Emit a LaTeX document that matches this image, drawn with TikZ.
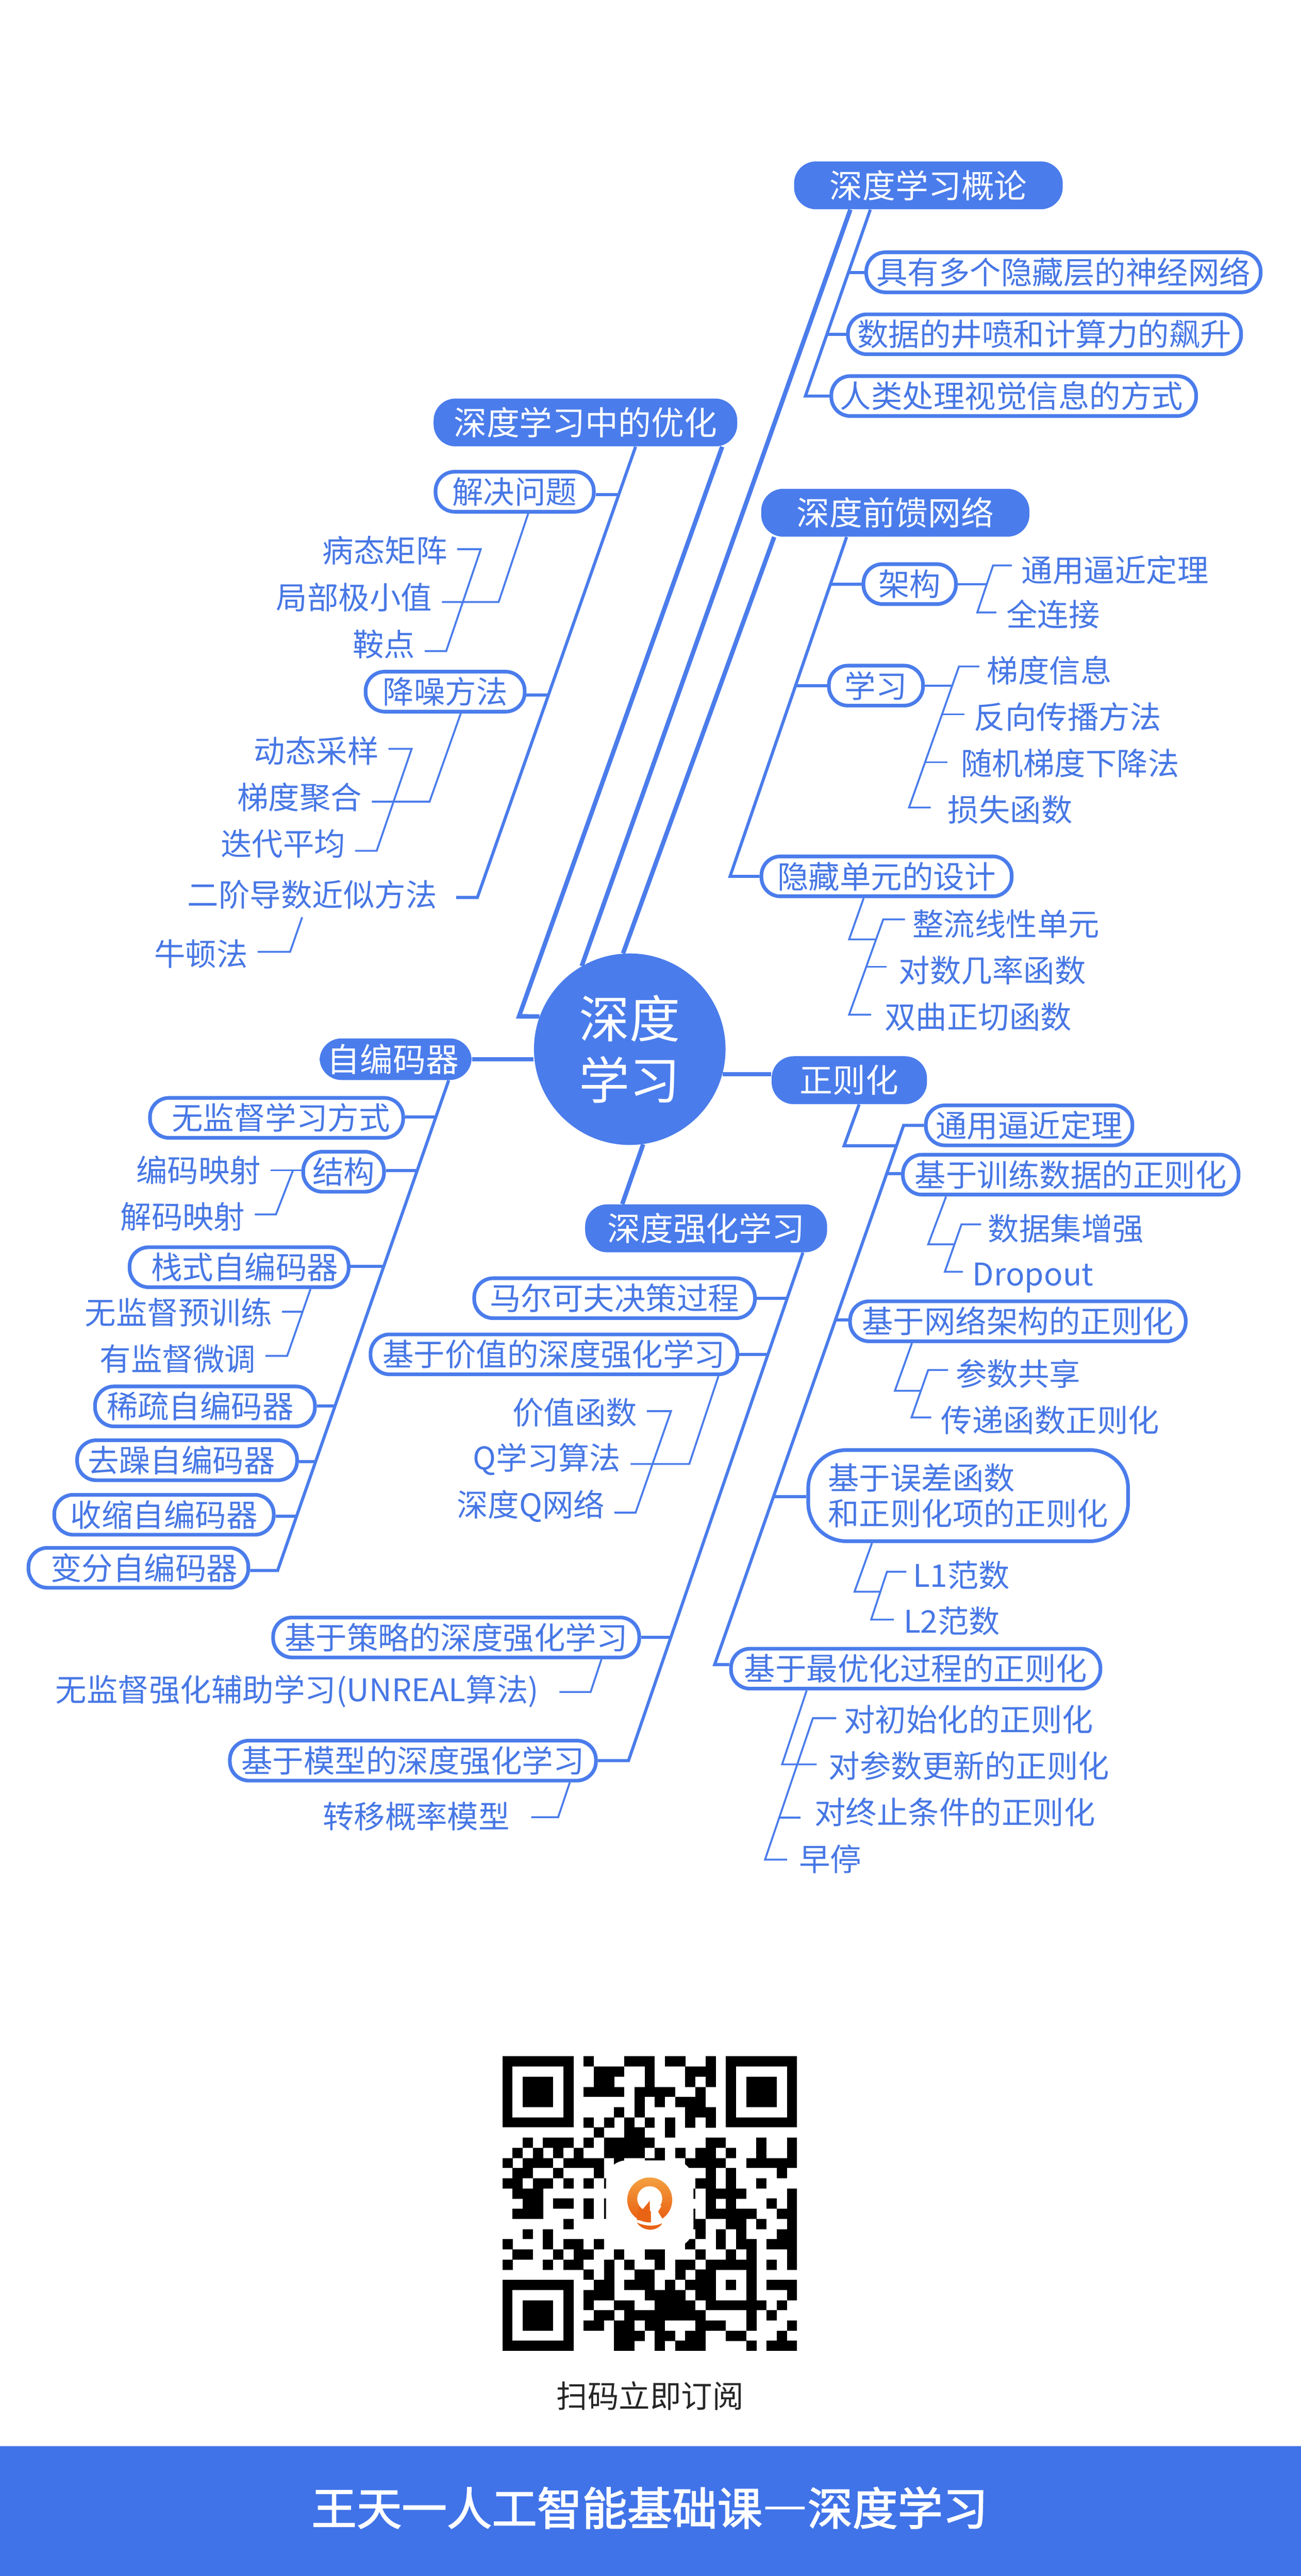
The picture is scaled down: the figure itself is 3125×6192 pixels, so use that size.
\documentclass[tikz,border=0pt]{standalone}
\usepackage{fontspec}
\setmainfont{Noto Sans CJK SC}
\newfontfamily\bandfont[CharacterWidth=Full, FakeBold=2]{Noto Sans CJK SC}
\usepackage{xcolor}
\usepackage{tikz}
\usetikzlibrary{arrows.meta,positioning,shapes,calc}
\definecolor{mapblue}{HTML}{4A7CEB}
\definecolor{maptext}{HTML}{4777E5}
\definecolor{bandblue}{HTML}{4073E8}
\definecolor{logotop}{HTML}{F4A040}
\definecolor{logolow}{HTML}{E85C10}
\begin{document}
\begin{tikzpicture}[
    x=0.01cm, y=-0.01cm,
    rootnode/.style={circle, fill=mapblue, text=white, align=center, minimum size=4.6cm, inner sep=0pt,
      font=\fontsize{34.6}{42}\selectfont},
    topicnode/.style={fill=mapblue, text=white, rounded corners=15pt, inner sep=0pt, minimum height=1.15cm,
      font=\fontsize{22.5}{26}\selectfont},
    subnode/.style={draw=mapblue, fill=white, text=maptext, line width=2.5pt, rounded corners=13pt, inner sep=0pt,
      minimum height=0.96cm, font=\fontsize{21.3}{24.5}\selectfont},
    leaf/.style={text=maptext, inner xsep=6.5pt, inner ysep=0pt, minimum height=1.08cm,
      font=\fontsize{21.3}{24.5}\selectfont},
    mainline/.style={draw=mapblue, line width=3pt},
    branch/.style={draw=mapblue, line width=2.1pt},
    twig/.style={draw=mapblue, line width=1.3pt}
  ]
    \useasboundingbox (0,0) rectangle (3125,6192);
    % centre and first level
    \node[rootnode] (root) at (1513,2522) {深度\\学习};
    \node[topicnode, minimum width=6.45cm] (gailun) at (2230.5,445.5) {深度学习概论};
    \node[topicnode, minimum width=7.29cm] (youhua) at (1406.5,1015.5) {深度学习中的优化};
    \node[topicnode, minimum width=6.44cm] (qiankui) at (2151,1232.5) {深度前馈网络};
    \node[topicnode, minimum width=3.65cm, minimum height=1cm] (zibianma) at (950.5,2546) {自编码器\kern3.5pt};
    \node[topicnode, minimum width=3.73cm] (zhengze) at (2040.5,2596.5) {正则化};
    \node[topicnode, minimum width=5.81cm] (qianghua) at (1696.5,2952.5) {深度强化学习};
    % gailun
    \node[subnode, minimum width=9.47cm] (juyou) at (2555,654.5) {具有多个隐藏层的神经网络};
    \node[subnode, minimum width=9.44cm] (shuju) at (2509.5,803.5) {数据的井喷和计算力的飙升};
    \node[subnode, minimum width=8.76cm] (renlei) at (2435.5,952) {人类处理视觉信息的方式\kern3pt};
    % youhua
    \node[subnode, minimum width=3.80cm] (jiejue) at (1236.5,1182) {解决问题};
    \node[leaf] (bingtai) at (925,1323) {病态矩阵};
    \node[leaf] (jubu) at (851,1436) {局部极小值};
    \node[leaf] (andian) at (922,1548) {鞍点};
    \node[subnode, minimum width=3.82cm] (jiangzao) at (1069.5,1662.5) {降噪方法};
    \node[leaf] (dongtai) at (760,1805) {动态采样};
    \node[leaf] (tidu) at (720,1917) {梯度聚合};
    \node[leaf] (diedai) at (680,2028) {迭代平均};
    \node[leaf, inner xsep=13pt] (erjie) at (750,2150) {二阶导数近似方法};
    \node[leaf] (niudun) at (483,2293) {牛顿法};
    % qiankui
    \node[subnode, minimum width=2.22cm] (jiagou) at (2185.5,1404) {架构};
    \node[leaf] (tyding) at (2679,1370) {通用逼近定理};
    \node[leaf] (quanlj) at (2530,1477) {全连接};
    \node[subnode, minimum width=2.26cm] (xuexi) at (2104.5,1648) {学习};
    \node[leaf, inner xsep=5pt] (tiduxx) at (2521,1612) {梯度信息};
    \node[leaf] (fanxiang) at (2565,1723) {反向传播方法};
    \node[leaf, inner xsep=9pt] (suiji) at (2571,1835) {随机梯度下降法};
    \node[leaf, inner xsep=11.5pt] (sunshi) at (2427,1946) {损失函数};
    \node[subnode, minimum width=6.01cm] (yincang) at (2130,2106.5) {隐藏单元的设计};
    \node[leaf, inner xsep=5pt] (zhengliu) at (2417,2221) {整流线性单元};
    \node[leaf, inner xsep=8pt] (duishu) at (2384,2332) {对数几率函数};
    \node[leaf, inner xsep=9pt] (shuangqu) at (2350,2444) {双曲正切函数};
    % zhengze
    \node[subnode, minimum width=4.96cm] (tongyong) at (2472.5,2705) {通用逼近定理};
    \node[subnode, minimum width=8.06cm] (xunlian) at (2572.5,2823.5) {基于训练数据的正则化};
    \node[leaf, inner xsep=4.5pt] (shujuji) at (2561,2953) {数据集增强};
    \node[leaf] (dropout) at (2482,3072) {Dropout};
    \node[subnode, minimum width=8.06cm] (wangluo) at (2445.5,3176) {基于网络架构的正则化};
    \node[leaf, inner xsep=5pt] (canshu) at (2446,3302) {参数共享};
    \node[leaf] (chuandi) at (2523,3414) {传递函数正则化};
    \node[subnode, minimum width=7.68cm, minimum height=2.19cm, rounded corners=26pt, align=left] (wucha) at (2326,3595) {基于误差函数\\和正则化项的正则化};
    \node[leaf, inner xsep=4.5pt] (lone) at (2310,3786) {L1范数};
    \node[leaf] (ltwo) at (2287,3897) {L2范数};
    \node[subnode, minimum width=8.87cm] (zuiyou) at (2200,4011) {基于最优化过程的正则化};
    \node[leaf, inner xsep=5pt] (duichu) at (2327,4133) {对初始化的正则化};
    \node[leaf, inner xsep=8pt] (duican) at (2328,4245) {对参数更新的正则化};
    \node[leaf, inner xsep=9.5pt] (duizhong) at (2294,4356) {对终止条件的正则化};
    \node[leaf, inner xsep=8pt] (zaoting) at (1995,4468) {早停};
    % zibianma
    \node[subnode, minimum width=6.08cm] (wujiandu) at (664.5,2687) {\kern6pt 无监督学习方式};
    \node[subnode, minimum width=1.94cm] (jiegou) at (825.5,2816.5) {结构};
    \node[leaf] (bianma) at (477,2813) {编码映射};
    \node[leaf] (jiema) at (439,2924) {解码映射};
    \node[subnode, minimum width=5.26cm] (zhanshi) at (574.5,3046) {\kern7.5pt 栈式自编码器};
    \node[leaf] (yuxl) at (429,3154) {无监督预训练};
    \node[leaf] (youjd) at (427,3266) {有监督微调};
    \node[subnode, minimum width=5.28cm] (xishu) at (492.5,3380.5) {稀疏自编码器\kern6.5pt};
    \node[subnode, minimum width=5.28cm] (quzao) at (449.5,3510) {去躁自编码器\kern7.5pt};
    \node[subnode, minimum width=5.27cm] (shousuo) at (394,3641) {收缩自编码器};
    \node[subnode, minimum width=5.28cm] (bianfen) at (332.5,3768.5) {\kern8pt 变分自编码器};
    % qianghua
    \node[subnode, minimum width=6.74cm] (maer) at (1476.5,3120.5) {马尔可夫决策过程};
    \node[subnode, minimum width=8.81cm] (jiazhi) at (1331,3255.5) {基于价值的深度强化学习};
    \node[leaf] (jzhs) at (1381,3395) {价值函数};
    \node[leaf] (qxx) at (1314,3508) {Q学习算法};
    \node[leaf] (sdq) at (1275,3620) {深度Q网络};
    \node[subnode, minimum width=8.79cm] (celue) at (1096,3936) {基于策略的深度强化学习};
    \node[leaf, inner xsep=14pt] (wjdqh) at (714,4065) {无监督强化辅助学习(UNREAL算法)};
    \node[subnode, minimum width=8.79cm] (moxing) at (992,4232) {基于模型的深度强化学习};
    \node[leaf, inner xsep=14.5pt] (zhuanyi) at (1000,4366) {转移概率模型};
    % connectors from the centre
    \draw[mainline] (gailun.south -| 2043,0) -- (root.120);
    \draw[mainline] (qiankui.south -| 1860,0) -- (root.94);
    \draw[mainline] (youhua.south -| 1735,0) -- (1247,2443) -- (root.160);
    \draw[mainline] (zibianma.east) -- (zibianma.east -| root.west);
    \draw[mainline] (root.-15) -- (zhengze.west |- root.-15);
    \draw[mainline] (root.-82) -- (qianghua.north -| 1495,0);
    % gailun
    \draw[branch] (gailun.south -| 2091,0) -- (1935,952) -- (renlei.west);
    \draw[branch] (juyou.west) -- (2040,654.5);
    \draw[branch] (shuju.west) -- (1987,803.5);
    % youhua
    \draw[branch] (youhua.south -| 1527,0) -- (1147,2157) -- (erjie.east |- 0,2157);
    \draw[branch] (jiejue.east |- 0,1189) -- (1486,1189);
    \draw[branch] (jiangzao.east |- 0,1670) -- (1318,1670);
    \draw[twig] (jiejue.south -| 1269,0) -- (1198,1447) -- (jubu.east |- 0,1447);
    \draw[twig] (bingtai.east |- 0,1320) -- (1155,1320) -- (1072,1565) -- (andian.east |- 0,1565);
    \draw[twig] (jiangzao.south -| 1107,0) -- (1032,1927) -- (tidu.east |- 0,1927);
    \draw[twig] (dongtai.east |- 0,1800) -- (989,1800) -- (905,2045) -- (diedai.east |- 0,2045);
    \draw[twig] (erjie.south -| 726,0) -- (697,2288) -- (niudun.east |- 0,2288);
    % qiankui
    \draw[branch] (qiankui.south -| 2034,0) -- (1754,2106.5) -- (yincang.west);
    \draw[branch] (jiagou.west) -- (1995,1404);
    \draw[branch] (xuexi.west) -- (1911,1648);
    \draw[twig] (jiagou.east) -- (2371,1404);
    \draw[twig] (tyding.west |- 0,1359) -- (2386,1359) -- (2348,1472) -- (quanlj.west |- 0,1472);
    \draw[twig] (xuexi.east) -- (2288,1648);
    \draw[twig] (tiduxx.west |- 0,1602) -- (2304,1602) -- (2184,1941) -- (sunshi.west |- 0,1941);
    \draw[twig] (fanxiang.west |- 0,1717) -- (2263,1717);
    \draw[twig] (suiji.west |- 0,1832) -- (2223,1832);
    \draw[twig] (yincang.south -| 2075,0) -- (2040,2258) -- (2105,2258);
    \draw[twig] (zhengliu.west |- 0,2210) -- (2122,2210) -- (2040,2439) -- (shuangqu.west |- 0,2439);
    \draw[twig] (duishu.west |- 0,2324) -- (2081,2324);
    % zhengze
    \draw[branch] (zhengze.south -| 2064,0) -- (2028,2754) -- (2152,2754);
    \draw[branch] (tongyong.west) -- (2171,2705) -- (1717,4001) -- (zuiyou.west |- 0,4001);
    \draw[branch] (xunlian.west |- 0,2821) -- (2131,2821);
    \draw[branch] (wangluo.west |- 0,3173) -- (2007,3173);
    \draw[branch] (wucha.west |- 0,3598) -- (1859,3598);
    \draw[twig] (xunlian.south -| 2273,0) -- (2230,2991) -- (2293,2991);
    \draw[twig] (shujuji.west |- 0,2943) -- (2310,2943) -- (2270,3057) -- (dropout.west |- 0,3057);
    \draw[twig] (wangluo.south -| 2191,0) -- (2150,3343) -- (2213,3343);
    \draw[twig] (canshu.west |- 0,3293) -- (2230,3293) -- (2190,3407) -- (chuandi.west |- 0,3407);
    \draw[twig] (wucha.south -| 2095,0) -- (2053,3826) -- (2117,3826);
    \draw[twig] (lone.west |- 0,3778) -- (2131,3778) -- (2093,3893) -- (ltwo.west |- 0,3893);
    \draw[twig] (zuiyou.south -| 1938,0) -- (1879,4241) -- (duican.west |- 0,4241);
    \draw[twig] (duichu.west |- 0,4130) -- (1953,4130) -- (1838,4470) -- (zaoting.west |- 0,4470);
    \draw[twig] (duizhong.west |- 0,4369) -- (1871,4369);
    % zibianma
    \draw[branch] (zibianma.south -| 1078,0) -- (667,3775) -- (bianfen.east |- 0,3775);
    \draw[branch] (wujiandu.east |- 0,2685) -- (1047,2685);
    \draw[branch] (jiegou.east |- 0,2814) -- (1001,2814);
    \draw[branch] (zhanshi.east |- 0,3044) -- (922,3044);
    \draw[branch] (xishu.east |- 0,3379) -- (805,3379);
    \draw[branch] (quzao.east |- 0,3513) -- (758,3513);
    \draw[branch] (shousuo.east |- 0,3644) -- (712,3644);
    \draw[twig] (jiegou.west |- 0,2813) -- (bianma.east |- 0,2813);
    \draw[twig] (704,2813) -- (663,2919) -- (jiema.east |- 0,2919);
    \draw[twig] (zhanshi.south -| 746,0) -- (690,3259) -- (youjd.east |- 0,3259);
    \draw[twig] (yuxl.east |- 0,3153) -- (727,3153);
    % qianghua
    \draw[branch] (qianghua.south -| 1929,0) -- (1510,4232) -- (moxing.east);
    \draw[branch] (maer.east) -- (1891,3120.5);
    \draw[branch] (jiazhi.east) -- (1844,3255.5);
    \draw[branch] (celue.east) -- (1611,3936);
    \draw[twig] (jiazhi.south -| 1726,0) -- (1656,3519) -- (qxx.east |- 0,3519);
    \draw[twig] (jzhs.east |- 0,3392) -- (1612,3392) -- (1527,3636) -- (sdq.east |- 0,3636);
    \draw[twig] (celue.south -| 1445,0) -- (1419,4067) -- (wjdqh.east |- 0,4067);
    \draw[twig] (moxing.south -| 1369,0) -- (1341,4368) -- (zhuanyi.east |- 0,4368);
    % qr code
    \def\qrm{24.41}
    \foreach \fx/\fy in {0/0, 22/0, 0/22} {
      \fill[black] ({1207+\qrm*\fx},{4943+\qrm*\fy}) rectangle +({7*\qrm},{7*\qrm});
      \fill[white] ({1207+\qrm*(\fx+1)},{4943+\qrm*(\fy+1)}) rectangle +({5*\qrm},{5*\qrm});
      \fill[black] ({1207+\qrm*(\fx+2)},{4943+\qrm*(\fy+2)}) rectangle +({3*\qrm},{3*\qrm});
    }
    \foreach \qrow/\qcols in {
      0/{8,12,13,14,16,17,20},
      1/{9,10,11,14,18,19,20},
      2/{9,10,14,18,20},
      3/{8,9,10,11,13,14,15,16,19},
      4/{13,15,17,18,19},
      5/{11,13,18,19,20},
      6/{8,10,12,14,16,18,20},
      7/{9,12,13,16},
      8/{2,4,5,6,8,10,11,12,13,14,20,21,25,28},
      9/{1,3,5,7,10,11,12,13,15,17,19,20,22,25,28},
      10/{0,2,3,4,6,7,8,9,11,14,15,18,19,20,21,24,25,26,27,28},
      11/{1,2,5,9,20,22,27},
      12/{0,1,3,4,6,8,10,19,20,22,25},
      13/{1,2,3,18,20,21,22,23,28},
      14/{2,3,5,6,8,10,20,22,26,28},
      15/{1,2,3,8,10,18,20,21,22,23,24,27,28},
      16/{6,18,19,22,23,25,28},
      17/{2,4,19,21,23,27,28},
      18/{0,4,6,7,9,18,21,23,24,26,27,28},
      19/{1,2,5,7,8,11,14,15,19,22,24,28},
      20/{0,4,6,7,10,12,15,17,18,20,21,22,23,24,26,28},
      21/{8,10,13,14,17,19,20,24},
      22/{9,10,12,13,14,16,18,19,20,22,24,26,27,28},
      23/{8,9,10,14,15,16,17,19,20,24,28},
      24/{8,11,12,15,16,17,18,20,21,22,23,24,25,27},
      25/{9,10,12,13,14,15,16,17,18,19,24,26},
      26/{8,9,11,12,14,15,19,20,21,24,28},
      27/{11,12,13,15,16,18,19,22,23,27},
      28/{11,12,15,17,18,19,24,26,27,28}} {
      \foreach \qcol in \qcols
        \fill[black] ({1207+\qrm*\qcol},{4943+\qrm*\qrow}) rectangle +(24.6,24.6);
    }
    \node[fill=white, rounded corners=14pt, minimum width=2.1cm, minimum height=2.09cm, inner sep=0pt] (qrhole) at (1561,5297.5) {};
    % logo in the qr code
    \shade[top color=logotop, bottom color=logolow] (1561,5288) circle (54);
    \fill[white] (1561,5285) circle (30);
    \fill[logolow!90!logotop] (1535,5303) -- (1543,5312) -- (1561,5290) -- (1562,5341) -- (1530,5336) -- cycle;
    \fill[white] (1564,5290) -- (1564,5346) -- (1594,5338) -- (1581,5316) -- (1589,5303) -- cycle;
    \fill[logolow!90!logotop] (1530,5342) .. controls (1550,5352) and (1575,5352) .. (1591,5344) .. controls (1580,5364) and (1545,5366) .. cycle;
    \node[text=black!85, font=\fontsize{21.3}{24.5}\selectfont] (saoma) at (1562,5759) {扫码立即订阅};
    % bottom band
    \node[fill=bandblue, minimum width=31.25cm, minimum height=3.12cm, inner sep=0pt] (band) at (1562.5,6036) {};
    \node[text=white, font=\bandfont\fontsize{30.8}{36}\selectfont] (bandtitle) at (1561,6028) {王天一人工智能基础课—深度学习};
  \end{tikzpicture}
\end{document}
